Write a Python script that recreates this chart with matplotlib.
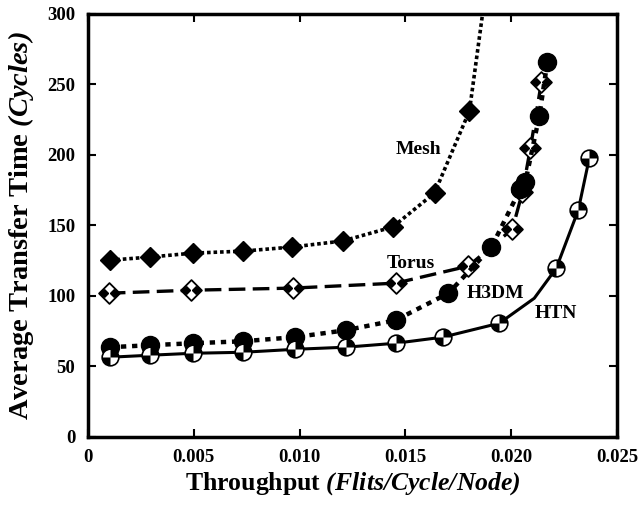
import numpy as np
import matplotlib
matplotlib.use('Agg')
import matplotlib.pyplot as plt
from matplotlib.path import Path

# ---------------------------------------------------------------------------
# Datos
# ---------------------------------------------------------------------------
x_mesh = [0.00104, 0.00292, 0.00495, 0.00731, 0.00962, 0.01203, 0.01439, 0.01637, 0.01802, 0.0190]
y_mesh = [125.3, 127.5, 130.3, 131.7, 134.6, 138.9, 148.8, 172.9, 231.2, 340.0]

x_torus = [0.00099, 0.00486, 0.00967, 0.01453, 0.01797, 0.02005, 0.02052, 0.0209, 0.02142]
y_torus = [101.9, 104.0, 105.5, 109.0, 121.1, 147.4, 173.6, 204.9, 251.7]

x_h3dm = [0.00104, 0.00292, 0.00495, 0.00731, 0.00976, 0.01217, 0.01453, 0.01703, 0.01906,
          0.02042, 0.02066, 0.02132, 0.0217]
y_h3dm = [63.6, 65.0, 66.4, 67.8, 70.7, 75.6, 82.7, 101.9, 134.6, 175.8, 180.8, 227.6, 266.0]

x_htn = [0.00104, 0.00292, 0.00495, 0.00731, 0.00976, 0.01217, 0.01453, 0.01675, 0.01943,
         0.02108, 0.02212, 0.02316, 0.02368]
y_htn = [56.5, 57.9, 59.3, 60.0, 62.1, 63.6, 66.4, 70.7, 80.6, 98.3, 119.6, 160.9, 197.8]
htn_marcas = [0, 1, 2, 3, 4, 5, 6, 7, 8, 10, 11, 12]

x_ticks = [0, 0.005, 0.010, 0.015, 0.020, 0.025]
x_labels = ['0', '0.005', '0.010', '0.015', '0.020', '0.025']
y_ticks = [0, 50, 100, 150, 200, 250, 300]

etiquetas = ['Mesh', 'Torus', 'H3DM', 'HTN']
pos_etiquetas = [(0.01561, 203.5), (0.01524, 123.2), (0.01925, 102.0), (0.02208, 87.7)]

# ---------------------------------------------------------------------------
# Marcadores propios
# ---------------------------------------------------------------------------
cuartos_circ = Path.make_compound_path(Path.wedge(0, 90), Path.wedge(180, 270))
rombo = Path([(0, 1), (1, 0), (0, -1), (-1, 0), (0, 1)],
             [Path.MOVETO, Path.LINETO, Path.LINETO, Path.LINETO, Path.CLOSEPOLY])
rombo_izq = Path([(0, 0), (-0.45, 0.45), (-1, 0), (-0.45, -0.45), (0, 0)],
                 [Path.MOVETO, Path.LINETO, Path.LINETO, Path.LINETO, Path.CLOSEPOLY])
rombo_der = Path([(0, 0), (0.45, 0.45), (1, 0), (0.45, -0.45), (0, 0)],
                 [Path.MOVETO, Path.LINETO, Path.LINETO, Path.LINETO, Path.CLOSEPOLY])
rombo_cuartos = Path.make_compound_path(rombo_izq, rombo_der)

plt.rcParams['font.family'] = 'Liberation Serif'
plt.rcParams['font.weight'] = 'bold'
plt.rcParams['axes.labelweight'] = 'bold'
plt.rcParams['mathtext.fontset'] = 'custom'
plt.rcParams['mathtext.rm'] = 'Liberation Serif:bold'
plt.rcParams['mathtext.bfit'] = 'Liberation Serif:italic:bold'

fig = plt.figure(figsize=[6.41, 5.11], dpi=100)
ax = fig.add_axes([0.137, 0.145, 0.826, 0.828])

# Mesh
ax.plot(x_mesh, y_mesh, color='black', linestyle=(0, (1.0, 0.8)), linewidth=2.6,
        marker='D', markersize=10.5, markerfacecolor='black', markeredgecolor='black', zorder=2)

# Torus
ax.plot(x_torus, y_torus, color='black', linestyle=(0, (5, 2.2)), linewidth=2.4,
        marker=rombo, markersize=15, markerfacecolor='white', markeredgecolor='black',
        markeredgewidth=1.3, zorder=3)
ax.plot(x_torus, y_torus, linestyle='none', marker=rombo_cuartos, markersize=15,
        markerfacecolor='black', markeredgewidth=0, zorder=3)

# H3DM
ax.plot(x_h3dm, y_h3dm, color='black', linestyle=(0, (1.2, 1.3)), linewidth=3.2,
        marker='o', markersize=13, markerfacecolor='black', markeredgecolor='black', zorder=4)

# HTN
ax.plot(x_htn, y_htn, color='black', linestyle='-', linewidth=2.2, markevery=htn_marcas,
        marker='o', markersize=12, markerfacecolor='white', markeredgecolor='black',
        markeredgewidth=1.2, zorder=5)
ax.plot([x_htn[i] for i in htn_marcas], [y_htn[i] for i in htn_marcas], linestyle='none',
        marker=cuartos_circ, markersize=12, markerfacecolor='black', markeredgewidth=0, zorder=5)

for txt, (xt, yt) in zip(etiquetas, pos_etiquetas):
    ax.text(xt, yt, txt, fontsize=14, fontweight='bold', ha='center', va='center', zorder=6)

ax.set_xlim(0, 0.025)
ax.set_ylim(0, 300)
ax.set_xticks(x_ticks)
ax.set_xticklabels(x_labels)
ax.set_yticks(y_ticks)
ax.tick_params(direction='in', top=True, right=True, length=6, width=1.5,
               labelsize=13.5, pad=9)
for s in ax.spines.values():
    s.set_linewidth(2.5)

ax.set_xlabel(r'Throughput $\mathbfit{(Flits/Cycle/Node)}$', fontsize=18.5, labelpad=3)
ax.set_ylabel(r'Average Transfer Time $\mathbfit{(Cycles)}$', fontsize=20.5, labelpad=8)

plt.savefig('out.png', dpi=100)
plt.close('all')
